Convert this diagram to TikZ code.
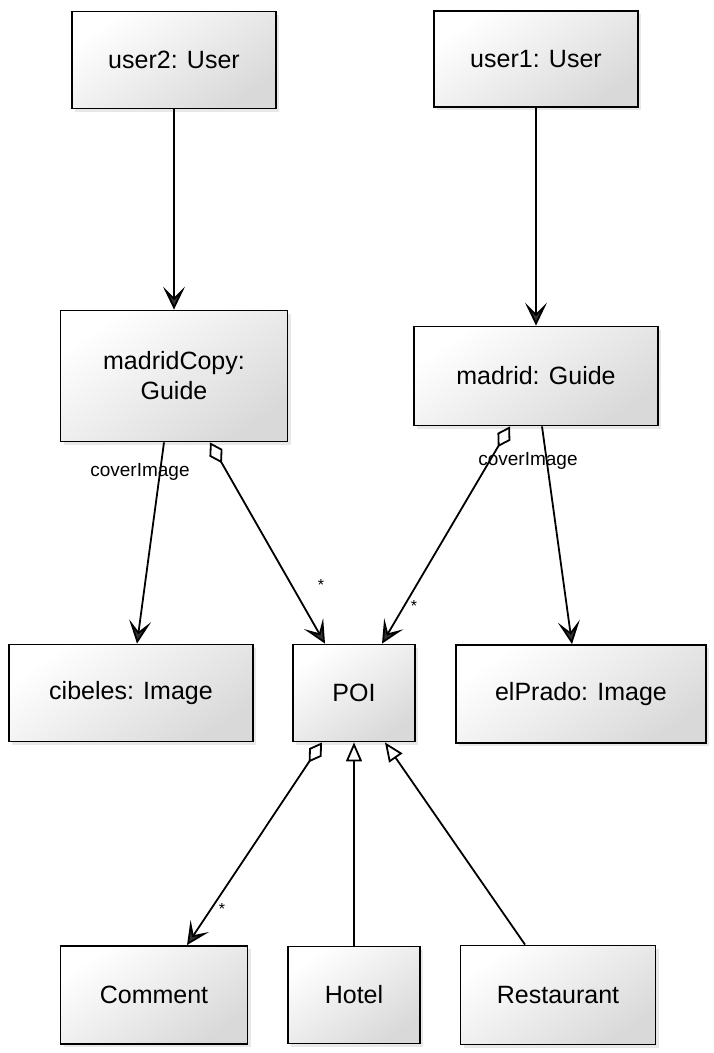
\documentclass[tikz,border=0pt]{standalone}
\usepackage{fontspec}
\setmainfont{Liberation Sans}
\usetikzlibrary{arrows.meta,shadows}
\definecolor{boxend}{HTML}{D9D9D9}
\definecolor{headfill}{HTML}{333333}
\tikzset{
  obj/.style={draw=black, line width=1.8pt, inner sep=0pt, align=center,
    font=\fontsize{25}{30}\selectfont,
    top color=white, bottom color=boxend, shading angle=35,
    drop shadow={shadow xshift=3pt, shadow yshift=-3pt, opacity=0.18}},
  conn/.style={draw=black, line width=1.8pt},
  nav/.style={conn, -{Stealth[length=23pt, width=22pt, inset=11pt, fill=headfill]}},
  agg/.style={conn, {Diamond[open, length=24pt, width=15pt, fill=white]}-{Stealth[length=23pt, width=22pt, inset=11pt, fill=headfill]}},
  gen/.style={conn, -{Triangle[open, length=19pt, width=16pt, fill=white]}},
  lbl/.style={font=\fontsize{19}{22}\selectfont, inner sep=1pt},
  star/.style={font=\fontsize{16}{18}\selectfont, inner sep=1pt}
}
\begin{document}
\begin{tikzpicture}[x=1pt, y=-1pt]
\useasboundingbox (0,0) rectangle (713,1053);
% objects
\node[obj, minimum width=204pt, minimum height=97pt] (user2) at (174,60) {user2: User};
\node[obj, minimum width=204pt, minimum height=96pt] (user1) at (536,59) {user1: User};
\node[obj, minimum width=227pt, minimum height=131pt] (madridCopy) at (174,376) {madridCopy:\\Guide};
\node[obj, minimum width=244pt, minimum height=99pt] (madrid) at (536,376) {madrid: Guide};
\node[obj, minimum width=244pt, minimum height=97pt] (cibeles) at (131,693) {cibeles: Image};
\node[obj, minimum width=122pt, minimum height=97pt] (POI) at (354,693) {POI};
\node[obj, minimum width=250pt, minimum height=98pt] (elPrado) at (581,694) {elPrado: Image};
\node[obj, minimum width=187pt, minimum height=98pt] (Comment) at (154,995) {Comment};
\node[obj, minimum width=132pt, minimum height=97pt] (Hotel) at (354,995) {Hotel};
\node[obj, minimum width=195pt, minimum height=99pt] (Restaurant) at (558,995) {Restaurant};
% connectors
\draw[nav] (user2.south) -- (madridCopy.north);
\draw[nav] (user1.south) -- (madrid.north);
\draw[nav] ([xshift=-10pt]madridCopy.south) -- ([xshift=6pt]cibeles.north);
\draw[agg] ([xshift=36pt]madridCopy.south) -- ([xshift=-29pt]POI.north);
\draw[agg] ([xshift=-26pt]madrid.south) -- ([xshift=28pt]POI.north);
\draw[nav] ([xshift=6pt]madrid.south) -- ([xshift=-9pt]elPrado.north);
\draw[agg] ([xshift=-32pt]POI.south) -- ([xshift=33pt]Comment.north);
\draw[gen] (Hotel.north) -- (POI.south);
\draw[gen] ([xshift=-33pt]Restaurant.north) -- ([xshift=31pt]POI.south);
% labels
\node[lbl] (lblA) at (140,472) {coverImage};
\node[lbl] (lblB) at (528,461) {coverImage};
\node[star] (starA) at (321,585) {*};
\node[star] (starB) at (414,606) {*};
\node[star] (starC) at (222,909) {*};
\end{tikzpicture}
\end{document}
